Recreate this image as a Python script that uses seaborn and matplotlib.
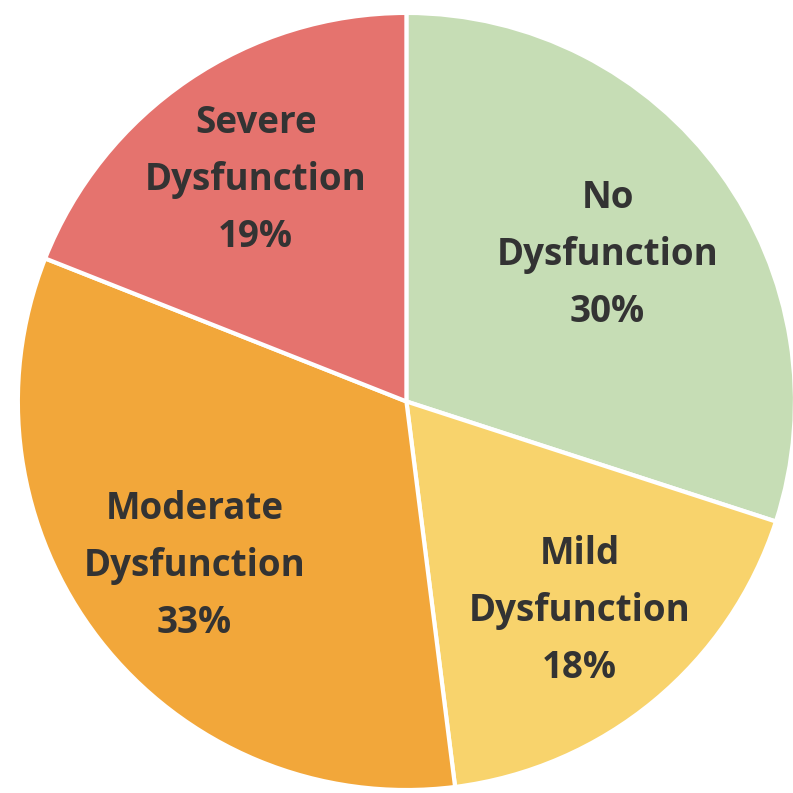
import matplotlib
matplotlib.use("Agg")
import matplotlib.pyplot as plt
import seaborn as sns
import numpy as np

categories = ["No\nDysfunction", "Mild\nDysfunction", "Moderate\nDysfunction", "Severe\nDysfunction"]
values = [30, 18, 33, 19]
colors = ["#C6DDB5", "#F8D36C", "#F2A73A", "#E5736E"]

sns.set_theme(style="white")
plt.rcParams['font.family'] = ['Open Sans', 'DejaVu Sans']

labels = [f"{c}\n{v}%" for c, v in zip(categories, values)]
# how far out each label sits (fraction of radius)
label_r = [0.64, 0.70, 0.69, 0.69]

fig = plt.figure(figsize=(7.93, 7.93), dpi=100)
ax = fig.add_axes([0, 0, 1, 1])
wedges, texts = ax.pie(values, labels=labels, colors=colors, startangle=90,
                       counterclock=False, labeldistance=0.68,
                       wedgeprops=dict(edgecolor="white", linewidth=3),
                       textprops=dict(fontsize=26.5, fontweight="bold", color="#333333",
                                      linespacing=1.66))
for w, t, r in zip(wedges, texts, label_r):
    ang = np.deg2rad((w.theta1 + w.theta2) / 2)
    t.set_position((r * np.cos(ang), r * np.sin(ang)))
    t.set_ha("center")
    t.set_va("center")

# put pie center where the reference has it
ax.set_xlim(-1.046, 0.995)
ax.set_ylim(-1.0077, 1.0333)
ax.set_aspect("equal")
ax.axis("off")

fig.savefig("out.png", dpi=100, facecolor="white")
